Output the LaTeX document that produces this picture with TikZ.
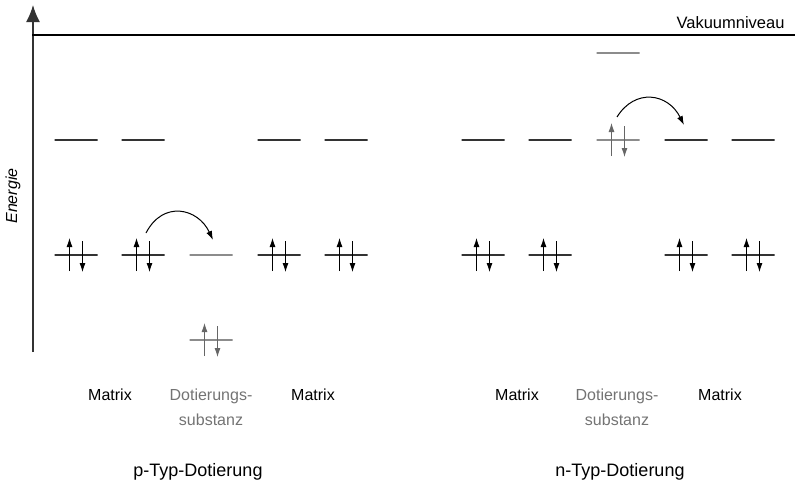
\documentclass[tikz,border=0pt]{standalone}
\usepackage{fontspec}
\setmainfont{Liberation Sans}
\usetikzlibrary{calc,arrows.meta}
\colorlet{dopant}{black!45}
\colorlet{dopantarrow}{black!60}
\tikzset{>={Latex[length=9pt,width=6pt]}}
\tikzset{
  orbital/.style = {draw=black!80, line width=1.1pt, minimum width=43pt, minimum height=0pt, inner sep=0pt, outer sep=0pt},
  dorbital/.style = {orbital, draw=dopant},
  lbl/.style = {font=\fontsize{16}{25}\selectfont, anchor=base},
  title/.style = {font=\fontsize{18}{22}\selectfont, anchor=base},
  jump/.style = {->, line width=1pt}
}
\newcommand{\lowy}{255}
\newcommand{\highy}{140}
% two electrons with opposite spin on an orbital
\newcommand{\electrons}[2]{%
  \draw[->,line width=0.9pt,#2] ($(#1)+(-6.5,16)$) -- ++(0,-33);
  \draw[->,line width=0.9pt,#2] ($(#1)+(6.5,-14)$) -- ++(0,31);
}

\begin{document}
\begin{tikzpicture}[x=1pt,y=-1pt]
  \useasboundingbox (0,0) rectangle (795,485);
  % axis and vacuum level
  \draw[line width=1.6pt, black!80, -{Latex[length=17pt,width=14pt]}] (33,352) -- (33,5);
  \draw[line width=1.8pt] (32,35) -- (795,35);
  \node[font=\fontsize{16.5}{24}\selectfont, anchor=base east] at (788,28) {Vakuumniveau};
  \node[font=\fontsize{16}{24}\selectfont\itshape, rotate=90] at (13,196) {Energie};

  % p-type
  \foreach \n/\x in {pa/76,pb/143,pc/279,pd/346} {
    \node[orbital] (\n h) at (\x,\highy) {};
    \node[orbital] (\n l) at (\x,\lowy) {};
    \electrons{\n l}{black}
  }
  \node[dorbital] (pacc) at (211,\lowy) {};
  \node[dorbital] (pdop) at (211,340) {};
  \electrons{pdop}{dopantarrow}
  \coordinate (pfrom) at ($(pbl)+(3,-22)$);
  \coordinate (pto) at ($(pacc)+(2,-15)$);
  \draw[jump] (pfrom) .. controls +(17,-33) and +(-15,-32) .. (pto);

  \node[lbl] at (110,400) {Matrix};
  \node[lbl, text=black!55, align=center] at (211,425) {Dotierungs-\\substanz};
  \node[lbl] at (313,400) {Matrix};
  \node[title] at (198,476) {p-Typ-Dotierung};

  % n-type
  \foreach \n/\x in {na/483,nb/550,nc/686,nd/753} {
    \node[orbital] (\n h) at (\x,\highy) {};
    \node[orbital] (\n l) at (\x,\lowy) {};
  }
  \foreach \n in {nal,nbl,ncl,ndl} {\electrons{\n}{black}}
  \node[dorbital] (ndon) at (618,\highy) {};
  \node[dorbital] (nvac) at (618,53) {};
  \electrons{ndon}{dopantarrow}
  \coordinate (nfrom) at ($(ndon)+(-1,-23)$);
  \coordinate (nto) at ($(nch)+(-2,-15)$);
  \draw[jump] (nfrom) .. controls +(18,-29) and +(-16,-32) .. (nto);

  \node[lbl] at (517,400) {Matrix};
  \node[lbl, text=black!55, align=center] at (617,425) {Dotierungs-\\substanz};
  \node[lbl] at (720,400) {Matrix};
  \node[title] at (620,476) {n-Typ-Dotierung};
\end{tikzpicture}
\end{document}
